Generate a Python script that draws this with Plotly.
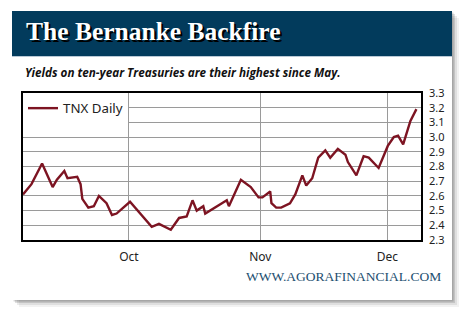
import plotly.graph_objects as go

# ---- data ----
dates = [
    "2010-09-06", "2010-09-08", "2010-09-10 12:00", "2010-09-13", "2010-09-14",
    "2010-09-15 18:00", "2010-09-16 12:00", "2010-09-18 19:00", "2010-09-19 14:00", "2010-09-20",
    "2010-09-21 10:00", "2010-09-22 17:00", "2010-09-23 22:00", "2010-09-25 17:00", "2010-09-27",
    "2010-09-28 02:00", "2010-10-01 06:00", "2010-10-06 09:00", "2010-10-08 02:00", "2010-10-10 21:00",
    "2010-10-12 20:00", "2010-10-14 15:00", "2010-10-16", "2010-10-17", "2010-10-18 13:00",
    "2010-10-19", "2010-10-24 02:00", "2010-10-24 14:00", "2010-10-27 10:00", "2010-10-29 18:00",
    "2010-10-31 14:00", "2010-11-01 12:00", "2010-11-03 08:00", "2010-11-03 15:00", "2010-11-04 18:00",
    "2010-11-05 22:00", "2010-11-08", "2010-11-09 06:00", "2010-11-10 22:00", "2010-11-11 20:00",
    "2010-11-13 06:00", "2010-11-14 16:00", "2010-11-16 08:00", "2010-11-17 12:00", "2010-11-19 07:00",
    "2010-11-21 02:00", "2010-11-21 16:00", "2010-11-23 16:00", "2010-11-25 09:00", "2010-11-26 14:00",
    "2010-11-28 22:00", "2010-12-01 02:00", "2010-12-02 12:00", "2010-12-03 12:00", "2010-12-04 17:00",
    "2010-12-06 10:00", "2010-12-07 20:00",
]
tnx = [
    2.61, 2.68, 2.82, 2.66, 2.71,
    2.77, 2.72, 2.73, 2.68, 2.58,
    2.52, 2.53, 2.60, 2.55, 2.47,
    2.48, 2.56, 2.39, 2.41, 2.37,
    2.45, 2.46, 2.57, 2.50, 2.53,
    2.48, 2.57, 2.53, 2.71, 2.66,
    2.59, 2.59, 2.63, 2.55, 2.52,
    2.52, 2.55, 2.61, 2.74, 2.67,
    2.72, 2.86, 2.91, 2.86, 2.92,
    2.88, 2.83, 2.74, 2.87, 2.86,
    2.79, 2.94, 3.00, 3.01, 2.95,
    3.11, 3.19,
]
y_ticks = [2.3, 2.4, 2.5, 2.6, 2.7, 2.8, 2.9, 3.0, 3.1, 3.2, 3.3]
y_tick_text = ["2.3", "2.4", "2.5", "2.6", "2.7", "2.8", "2.9", "3.0", "3.1", "3.2", "3.3"]

title_text = "The Bernanke Backfire"
subtitle_text = "Yields on ten-year Treasuries are their highest since May."
source_text = "WWW.AGORAFINANCIAL.COM"

# ---- layout geometry (pixels) ----
W, H = 470, 318
PL, PR, PT, PB = 23, 421, 93, 240


def px(x):
    return (x - PL) / (PR - PL)


def py(y):
    return (PB - y) / (PB - PT)


fig = go.Figure()
fig.add_trace(go.Scatter(
    x=dates, y=tnx, mode="lines", name="TNX Daily",
    line=dict(color="#7d1422", width=2.4),
))

shapes = []
# card shadow
for off, a in [(7, 0.05), (5, 0.08), (3, 0.12), (1.5, 0.15)]:
    shapes.append(dict(type="rect", xref="paper", yref="paper",
                       x0=px(12 + off), x1=px(452 + off), y0=py(11 + off), y1=py(300 + off),
                       fillcolor=f"rgba(0,0,0,{a})", line=dict(width=0), layer="below"))
# card
shapes.append(dict(type="rect", xref="paper", yref="paper",
                   x0=px(12), x1=px(452), y0=py(11), y1=py(300),
                   fillcolor="white", line=dict(width=0), layer="below"))
# header band
shapes.append(dict(type="rect", xref="paper", yref="paper",
                   x0=px(12), x1=px(452), y0=py(11), y1=py(56),
                   fillcolor="#023b5c", line=dict(width=0), layer="below"))
shapes.append(dict(type="line", xref="paper", yref="paper",
                   x0=px(12), x1=px(452), y0=py(56.5), y1=py(56.5),
                   line=dict(color="#b9c9d6", width=1), layer="below"))

annotations = [
    dict(text=title_text, xref="paper", yref="paper", x=px(24), y=py(31),
         xanchor="left", yanchor="middle", showarrow=False,
         font=dict(family="Liberation Serif", size=25.5, color="white", weight="bold",
                   shadow="2px 2px 0px #000000")),
    dict(text="<b><i>" + subtitle_text + "</i></b>", xref="paper", yref="paper",
         x=px(23), y=py(72), xanchor="left", yanchor="middle", showarrow=False,
         font=dict(family="Open Sans", size=11.7, color="#111111")),
    dict(text=source_text, xref="paper", yref="paper", x=px(443), y=py(276),
         xanchor="right", yanchor="middle", showarrow=False,
         font=dict(family="Liberation Serif", size=13.5, color="#1d4f70")),
]

fig.update_layout(
    width=W, height=H,
    margin=dict(l=PL, r=W - PR, t=PT, b=H - PB, pad=0),
    paper_bgcolor="white", plot_bgcolor="white",
    showlegend=True,
    legend=dict(x=0, y=1, xanchor="left", yanchor="top", bgcolor="white",
                borderwidth=0, font=dict(family="Noto Sans", size=13.3, color="#222222"),
                itemwidth=30, tracegroupgap=0),
    shapes=shapes, annotations=annotations,
    xaxis=dict(type="date", range=["2010-09-06", "2010-12-08 22:00"],
               tick0="2010-10-01", dtick="M1", tickformat="%b",
               showgrid=True, gridcolor="#9a9a9a", gridwidth=1,
               showline=True, linecolor="black", linewidth=1.5, mirror=True,
               ticks="outside", ticklen=5, tickcolor="rgba(0,0,0,0)",
               tickfont=dict(family="Noto Sans", size=12, color="#222222"),
               zeroline=False),
    yaxis=dict(side="right", range=[2.3, 3.3], tickvals=y_ticks, ticktext=y_tick_text,
               showgrid=True, gridcolor="#9a9a9a", gridwidth=1,
               showline=True, linecolor="black", linewidth=1.5, mirror=True,
               ticks="outside", ticklen=4, tickcolor="rgba(0,0,0,0)",
               tickfont=dict(family="Noto Sans", size=11, color="#222222"),
               zeroline=False),
)

fig.write_html("out.html")
